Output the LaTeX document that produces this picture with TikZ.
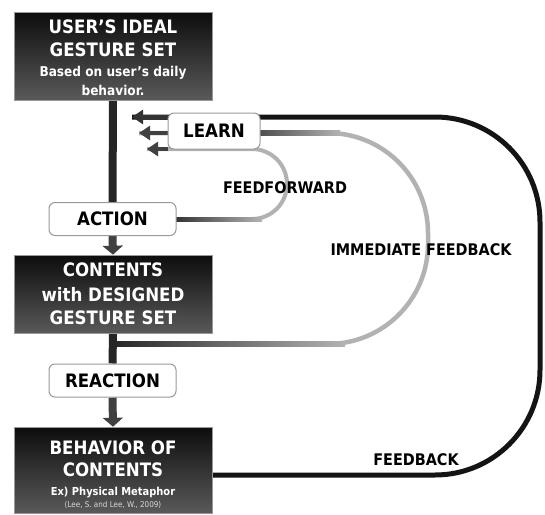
\documentclass[tikz,border=0pt]{standalone}
\usepackage{fontspec}
\setmainfont{DejaVu Sans Condensed}
\usetikzlibrary{arrows.meta,backgrounds}

\begin{document}
\begin{tikzpicture}[x=1pt,y=-1pt,
  darkbox/.style={draw=black!40, line width=0.6pt, top color=black!95, bottom color=black!65,
    minimum width=198pt, inner sep=0pt},
  tag/.style={draw=black!40, line width=1pt, fill=white, rounded corners=6pt,
    minimum width=127pt, minimum height=33pt, inner sep=0pt,
    font=\bfseries\fontsize{18.5}{22}\selectfont},
  title/.style={text=white, inner sep=0pt, font=\bfseries\fontsize{18.5}{22}\selectfont},
  sub/.style={text=white, inner sep=0pt, font=\bfseries\fontsize{13.5}{16}\selectfont},
  looplabel/.style={inner sep=0pt, font=\bfseries\fontsize{16}{19}\selectfont},
  stem/.style={line width=8pt, black!85},
  stemarrow/.style={line width=8pt, black!75, -{Triangle[width=20pt,length=9pt]}},
  tipL/.style={-{Triangle[width=14pt,length=11pt]}},
  fbline/.style={line width=5pt, black!92},
  grayline/.style={line width=4.5pt, black!30},
  darkshaft/.style={line width=4.5pt, black!75},
]
\useasboundingbox (0,0) rectangle (545,514);

% main boxes
\node[darkbox, minimum height=88pt] (u) at (113,56) {};
\node[darkbox, minimum height=78pt] (c) at (113,294) {};
\node[darkbox, minimum height=86pt] (b) at (113,470) {};

% box texts
\node[title] (u1) at (113,27) {USER’S IDEAL};
\node[title] (u2) at (113,50) {GESTURE SET};
\node[sub] (u3) at (113,73) {Based on user’s daily};
\node[sub] (u4) at (113,90) {behavior.};
\node[title] (c1) at (113,270) {CONTENTS};
\node[title] (c2) at (113,295) {with DESIGNED};
\node[title] (c3) at (113,318) {GESTURE SET};
\node[title] (b1) at (113,448) {BEHAVIOR OF};
\node[title] (b2) at (113,470) {CONTENTS};
\node[text=white, inner sep=0pt, font=\bfseries\fontsize{11}{13}\selectfont] (b3) at (113,492) {Ex) Physical Metaphor};
\node[text=white!85!black, inner sep=0pt, font=\fontsize{8}{10}\selectfont] (b4) at (113,505) {(Lee, S. and Lee, W., 2009)};

% step tags
\node[tag] (act) at (112.5,219) {ACTION};
\node[tag] (react) at (112.5,380.5) {REACTION};
\node[tag, minimum width=92pt, minimum height=36pt] (learn) at (214,131) {LEARN};

% loop labels
\node[looplabel] (ffl) at (285,188) {FEEDFORWARD};
\node[looplabel] (iml) at (421,250) {IMMEDIATE FEEDBACK};
\node[looplabel] (fbl) at (416,460) {FEEDBACK};

% loop ends
\coordinate (tap) at (113,344);
\coordinate (fbTip) at (132,117);
\coordinate (imTip) at (139,133);
\coordinate (ffTip) at (147,149);

\begin{scope}[on background layer]
  % feedback loop
  \draw[fbline, rounded corners=105pt] ([yshift=-5pt]b.east) -- (540,475) -- (540,117) -- (fbTip);
  \draw[fbline, black!80, tipL] (learn.west |- fbTip) -- (fbTip);

  % immediate feedback loop
  \draw[grayline, rounded corners=100pt] (tap) -- (428,344) -- (428,133) -- (imTip);
  \shade[left color=black!85, right color=black!30] (113,341.75) rectangle (345,346.25);
  \shade[left color=black!70, right color=black!30] (258,130.75) rectangle (340,135.25);
  \draw[darkshaft, tipL] (learn.west |- imTip) -- (imTip);

  % feedforward loop
  \draw[grayline, line width=4pt, rounded corners=35pt] (act.east) -- (287,219) -- (287,149) -- (ffTip);
  \shade[left color=black!80, right color=black!30] (175,217) rectangle (262,221);
  \draw[darkshaft, line width=4pt, tipL] (learn.west |- ffTip) -- (ffTip);

  % main flow
  \draw[stem] (u.south) -- (act.north);
  \draw[stem] (c.south) -- (react.north);
  \draw[stemarrow] (act.south) -- (c.north);
  \draw[stemarrow] (react.south) -- (b.north);
\end{scope}
\end{tikzpicture}
\end{document}
